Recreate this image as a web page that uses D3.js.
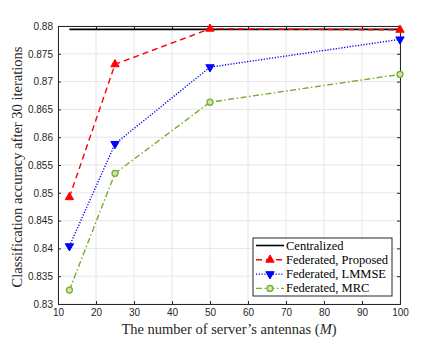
<!DOCTYPE html>
<html>
<head>
<meta charset="utf-8">
<script src="https://cdn.jsdelivr.net/npm/d3@7"></script>
<style>
  body { margin: 0; background: #fff; }
  svg { display: block; }
</style>
</head>
<body>
<div id="chart"></div>
<script>
// Values
const antennas = [13, 25, 50, 100];
const centralized = [0.8794, 0.8794, 0.8794, 0.8794];
const proposed = [0.8492, 0.8731, 0.8795, 0.8793];
const lmmse = [0.8404, 0.8588, 0.8726, 0.8776];
const mrc = [0.8325, 0.8535, 0.8663, 0.8713];
const xTicks = [10, 20, 30, 40, 50, 60, 70, 80, 90, 100];
const yTicks = [0.83, 0.835, 0.84, 0.845, 0.85, 0.855, 0.86, 0.865, 0.87, 0.875, 0.88];
const seriesNames = ["Centralized", "Federated, Proposed", "Federated, LMMSE", "Federated, MRC"];

const W = 442, H = 342;
const margin = { top: 26, right: 42, bottom: 38, left: 58 };
const width = W - margin.left - margin.right;
const height = H - margin.top - margin.bottom;

const svg = d3.select("#chart").append("svg")
    .attr("width", W)
    .attr("height", H);

const g = svg.append("g")
    .attr("transform", `translate(${margin.left},${margin.top})`);

const x = d3.scaleLinear().domain([10, 100]).range([0, width]);
const y = d3.scaleLinear().domain([0.83, 0.88]).range([height, 0]);

// grid
g.append("g").selectAll("line")
    .data(xTicks)
    .enter().append("line")
    .attr("x1", d => x(d)).attr("x2", d => x(d))
    .attr("y1", 0).attr("y2", height)
    .style("stroke", "#e6e6e6").style("stroke-width", 1);
g.append("g").selectAll("line")
    .data(yTicks)
    .enter().append("line")
    .attr("x1", 0).attr("x2", width)
    .attr("y1", d => y(d)).attr("y2", d => y(d))
    .style("stroke", "#e6e6e6").style("stroke-width", 1);

// axes
const axisColor = "#262626";
const tickFont = "Liberation Sans, Arial, sans-serif";

const xAxis = g.append("g")
    .attr("transform", `translate(0,${height})`)
    .call(d3.axisBottom(x).tickValues(xTicks).tickSize(-3).tickPadding(5).tickFormat(d3.format("d")));
const xAxisTop = g.append("g")
    .call(d3.axisTop(x).tickValues(xTicks).tickSize(-3).tickFormat(""));
const yAxis = g.append("g")
    .call(d3.axisLeft(y).tickValues(yTicks).tickSize(-3).tickPadding(5).tickFormat(d => d3.format("")(+d.toFixed(3))));
const yAxisRight = g.append("g")
    .attr("transform", `translate(${width},0)`)
    .call(d3.axisRight(y).tickValues(yTicks).tickSize(-3).tickFormat(""));

[xAxis, xAxisTop, yAxis, yAxisRight].forEach(a => {
    a.select(".domain").style("stroke", axisColor).style("stroke-width", 1);
    a.selectAll(".tick line").style("stroke", axisColor);
    a.selectAll("text")
        .style("font-family", tickFont)
        .style("font-size", "10px")
        .style("fill", "#262626");
});

// axis labels
svg.append("text")
    .attr("x", margin.left + width / 2)
    .attr("y", 334)
    .attr("text-anchor", "middle")
    .style("font-family", "Liberation Serif, Times New Roman, serif")
    .style("font-size", "14.5px")
    .style("fill", "#262626")
    .html("The number of server’s antennas (<tspan font-style='italic'>M</tspan>)");

svg.append("text")
    .attr("transform", `translate(22,${margin.top + height / 2 + 2}) rotate(-90)`)
    .attr("text-anchor", "middle")
    .style("font-family", "Liberation Serif, Times New Roman, serif")
    .style("font-size", "14.5px")
    .style("fill", "#262626")
    .text("Classification accuracy after 30 iterations");

// series
const series = [
    { name: seriesNames[0], values: centralized, color: "#000000", dash: null, width: 1.6, marker: null },
    { name: seriesNames[1], values: proposed, color: "#ff0000", dash: "6,4", width: 1.4, marker: "up" },
    { name: seriesNames[2], values: lmmse, color: "#0000ff", dash: "1.2,1.6", width: 1.4, marker: "down" },
    { name: seriesNames[3], values: mrc, color: "#77ac30", dash: "6,2.5,1.5,2.5", width: 1.4, marker: "circle" }
];

const line = d3.line()
    .x(d => x(d[0]))
    .y(d => y(d[1]));

function drawMarker(sel, type, color) {
    if (type === "up") {
        sel.append("path")
            .attr("d", d3.symbol().type(d3.symbolTriangle).size(30))
            .style("fill", color).style("stroke", color).style("stroke-width", 1);
    } else if (type === "down") {
        sel.append("path")
            .attr("d", d3.symbol().type(d3.symbolTriangle).size(30))
            .attr("transform", "rotate(180)")
            .style("fill", color).style("stroke", color).style("stroke-width", 1);
    } else if (type === "circle") {
        sel.append("circle")
            .attr("r", 3)
            .style("fill", "#cfe3b0").style("stroke", color).style("stroke-width", 1.3);
    }
}

series.forEach(s => {
    const pts = antennas.map((a, i) => [a, s.values[i]]);
    g.append("path")
        .datum(pts)
        .attr("d", line)
        .style("fill", "none")
        .style("stroke", s.color)
        .style("stroke-width", s.width)
        .style("stroke-dasharray", s.dash);
    if (s.marker) {
        g.selectAll(null)
            .data(pts)
            .enter().append("g")
            .attr("transform", d => `translate(${x(d[0])},${y(d[1])})`)
            .each(function() { drawMarker(d3.select(this), s.marker, s.color); });
    }
});

// legend
const legend = svg.append("g").attr("transform", "translate(253,238)");
legend.append("rect")
    .attr("width", 139).attr("height", 58)
    .style("fill", "#fff").style("stroke", axisColor).style("stroke-width", 1);

series.forEach((s, i) => {
    const row = legend.append("g").attr("transform", `translate(0,${7.5 + i * 14.3})`);
    row.append("line")
        .attr("x1", 3).attr("x2", 31).attr("y1", 0).attr("y2", 0)
        .style("stroke", s.color)
        .style("stroke-width", s.width)
        .style("stroke-dasharray", s.dash);
    if (s.marker) {
        const m = row.append("g").attr("transform", "translate(17,0)");
        drawMarker(m, s.marker, s.color);
    }
    row.append("text")
        .attr("x", 33).attr("y", 4)
        .style("font-family", "Liberation Serif, Times New Roman, serif")
        .style("font-size", "12.5px")
        .style("fill", "#000")
        .text(s.name);
});
</script>
</body>
</html>
